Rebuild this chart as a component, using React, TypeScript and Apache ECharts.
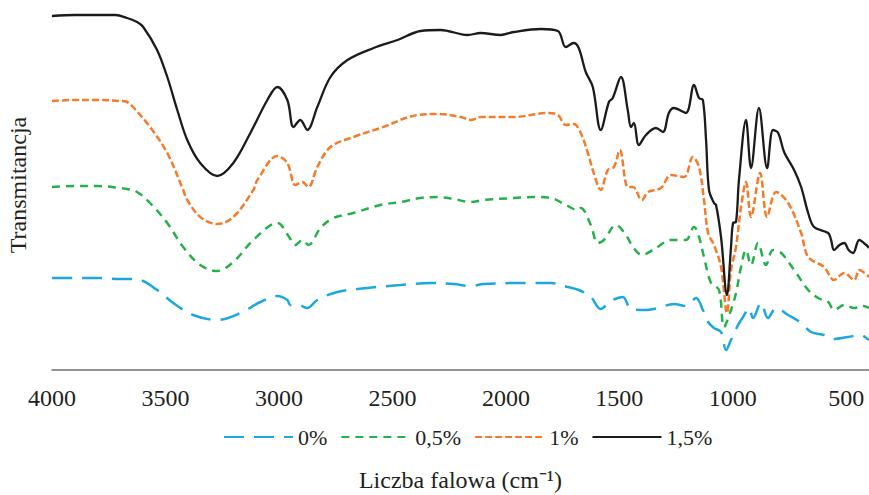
import React, { useEffect, useRef } from "react";
import * as echarts from "echarts";

// Wavenumbers (cm-1) and transmittance (arbitrary units)
const wn0 = [4000, 3900, 3800, 3700, 3669, 3612, 3537, 3466, 3378, 3272, 3170, 3082, 3007, 2963, 2950, 2914, 2875, 2831, 2742, 2610, 2464, 2332, 2230, 2155, 2098, 1935, 1802, 1727, 1679, 1626, 1582, 1538, 1485, 1449, 1392, 1330, 1260, 1207, 1162, 1132, 1109, 1083, 1052, 1030, 1008, 977, 955, 929, 911, 876, 845, 809, 756, 699, 655, 598, 554, 492, 434, 412, 400];
const t0 = [92, 92, 92, 91, 91, 90, 80, 67, 55, 50, 57, 68, 74, 70, 65, 65, 62, 70, 78, 82, 85, 87, 86, 84, 86, 87, 87, 83, 80, 73, 61, 69, 73, 61, 60, 62, 66, 64, 72, 60, 48, 42, 38, 20, 30, 45, 53, 62, 52, 67, 52, 62, 55, 47, 38, 35, 31, 33, 35, 32, 30];

const wn05 = [4000, 3900, 3800, 3700, 3669, 3625, 3568, 3492, 3422, 3347, 3272, 3201, 3113, 3007, 2955, 2928, 2897, 2870, 2817, 2760, 2672, 2553, 2464, 2376, 2301, 2230, 2155, 2098, 1966, 1877, 1802, 1736, 1683, 1670, 1626, 1595, 1568, 1515, 1471, 1440, 1401, 1339, 1273, 1207, 1171, 1154, 1127, 1096, 1061, 1039, 1008, 986, 964, 942, 920, 889, 854, 823, 787, 730, 668, 624, 580, 554, 509, 465, 425, 400];
const t05 = [183, 184, 184, 182, 181, 178, 167, 147, 123, 105, 99, 108, 130, 147, 133, 125, 130, 125, 142, 152, 157, 165, 168, 172, 173, 171, 168, 170, 172, 173, 172, 165, 160, 162, 145, 127, 130, 145, 135, 123, 115, 122, 130, 130, 143, 137, 113, 87, 80, 43, 60, 77, 103, 120, 105, 127, 105, 120, 117, 100, 80, 72, 68, 60, 65, 62, 64, 62];

const wn1 = [4000, 3900, 3800, 3700, 3669, 3643, 3568, 3492, 3422, 3404, 3347, 3272, 3201, 3113, 3095, 3007, 2963, 2928, 2897, 2870, 2831, 2773, 2672, 2553, 2389, 2301, 2199, 2155, 2111, 1966, 1816, 1771, 1736, 1701, 1670, 1639, 1613, 1582, 1551, 1524, 1498, 1463, 1440, 1401, 1374, 1317, 1273, 1215, 1176, 1149, 1127, 1109, 1083, 1052, 1026, 1008, 986, 964, 942, 920, 880, 849, 809, 756, 699, 668, 598, 554, 509, 465, 443, 400];
const t1 = [269, 270, 270, 269, 268, 263, 243, 217, 180, 170, 153, 146, 153, 180, 190, 214, 207, 185, 188, 183, 203, 223, 233, 242, 255, 256, 253, 250, 253, 253, 257, 255, 245, 246, 237, 217, 197, 180, 200, 203, 220, 183, 183, 170, 178, 182, 195, 193, 213, 203, 170, 137, 125, 103, 57, 100, 123, 163, 188, 153, 197, 153, 178, 167, 137, 113, 103, 90, 97, 90, 100, 93];

const wn15 = [4000, 3900, 3800, 3720, 3669, 3625, 3598, 3537, 3492, 3448, 3404, 3347, 3272, 3201, 3126, 3051, 3007, 2963, 2936, 2906, 2875, 2831, 2773, 2698, 2583, 2478, 2376, 2288, 2169, 2111, 2023, 1966, 1846, 1771, 1736, 1701, 1679, 1648, 1617, 1582, 1546, 1529, 1493, 1463, 1449, 1436, 1414, 1383, 1339, 1308, 1282, 1260, 1207, 1171, 1149, 1132, 1118, 1105, 1083, 1074, 1052, 1026, 1008, 999, 986, 973, 942, 920, 885, 849, 823, 800, 774, 730, 699, 668, 642, 580, 567, 554, 530, 509, 490, 470, 443, 412, 400];
const t15 = [354, 355, 355, 355, 352, 348, 343, 320, 293, 260, 230, 207, 194, 207, 237, 270, 283, 270, 243, 250, 240, 263, 293, 310, 322, 330, 339, 340, 335, 337, 335, 338, 341, 339, 323, 327, 322, 298, 283, 240, 268, 272, 293, 260, 243, 247, 225, 235, 242, 238, 257, 262, 257, 285, 272, 270, 230, 180, 167, 165, 133, 75, 123, 147, 148, 190, 250, 202, 262, 202, 240, 237, 218, 200, 183, 157, 143, 137, 130, 120, 125, 127, 120, 117, 130, 125, 122];

const seriesNames = ["0%", "0,5%", "1%", "1,5%"];
const colors = ["#1da7e2", "#25b14a", "#f47b2a", "#1b1b1b"];

const zip = (xs: number[], ys: number[]) => xs.map((x, i) => [x, ys[i]]);

export default function App() {
  const ref = useRef<HTMLDivElement>(null);
  useEffect(() => {
    if (!ref.current) return;
    const chart = echarts.init(ref.current, null, { renderer: "svg" });
    const serif = "'Liberation Serif', 'Times New Roman', serif";
    const txt = "#231f20";
    const mk = (i: number, data: number[][], type: any, width: number) => ({
      name: seriesNames[i],
      type: "line",
      data,
      symbol: "none",
      smooth: 0.35,
      lineStyle: { color: colors[i], width, type, cap: "butt" },
      itemStyle: { color: colors[i] },
    });
    chart.setOption({
      animation: false,
      grid: { left: 52, right: 0, top: 0, height: 370, containLabel: false, outerBoundsMode: "none" },
      legend: {
        left: 218,
        top: 421,
        itemWidth: 69,
        itemHeight: 14,
        itemGap: 13,
        itemStyle: { color: "transparent", borderColor: "transparent", borderWidth: 0, opacity: 0 },
        textStyle: { fontFamily: serif, fontSize: 22, color: txt },
        data: seriesNames,
      },
      xAxis: {
        type: "value",
        min: 400,
        max: 4000,
        inverse: true,
        minInterval: 500,
        maxInterval: 500,
        name: "Liczba falowa (cm⁻¹)",
        nameLocation: "middle",
        nameGap: 98,
        nameTextStyle: { fontFamily: serif, fontSize: 24, color: txt },
        axisLine: { show: true, onZero: false, lineStyle: { color: "#707070", width: 1.5 } },
        axisTick: { show: false },
        splitLine: { show: false },
        axisLabel: {
          fontFamily: serif,
          fontSize: 24,
          color: txt,
          margin: 16,
          showMinLabel: false,
          formatter: (v: number) => String(v),
        },
      },
      yAxis: {
        type: "value",
        min: 0,
        max: 370,
        name: "Transmitancja",
        nameLocation: "middle",
        nameRotate: 90,
        nameGap: 22,
        nameTextStyle: { fontFamily: serif, fontSize: 24, color: txt },
        axisLine: { show: false },
        axisTick: { show: false },
        axisLabel: { show: false },
        splitLine: { show: false },
      },
      series: [
        mk(0, zip(wn0, t0), [20, 10], 2.5),
        mk(1, zip(wn05, t05), [8, 6], 2.5),
        mk(2, zip(wn1, t1), [7, 3], 2.5),
        mk(3, zip(wn15, t15), "solid", 2.3),
      ],
    });
    return () => chart.dispose();
  }, []);
  return (
    <div
      ref={ref}
      style={{ position: "fixed", left: 0, top: 0, width: 869, height: 495, background: "#fff" }}
    />
  );
}
